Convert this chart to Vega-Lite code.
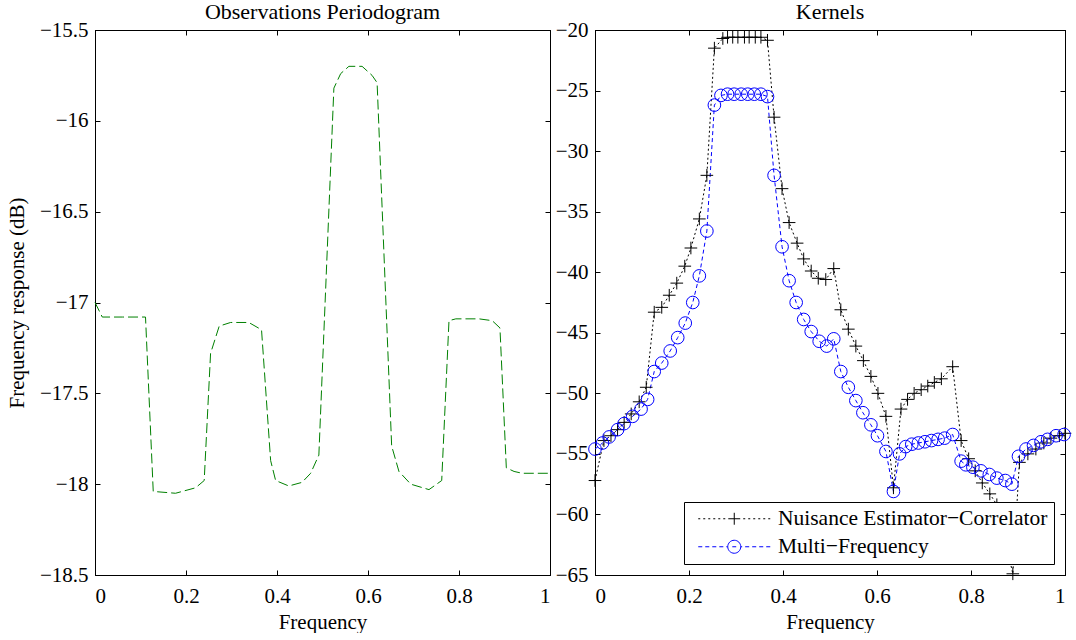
{
  "$schema": "https://vega.github.io/schema/vega-lite/v6.json",
  "padding": {"left": 5, "top": 0, "right": 5, "bottom": 0},
  "spacing": 0,
  "config": {
    "font": "Liberation Serif",
    "view": {"stroke": "black", "strokeWidth": 1},
    "axis": {"labelFont": "Liberation Serif", "labelFontSize": 21, "labelColor": "black", "titleFont": "Liberation Serif", "titleFontSize": 21, "titleFontWeight": "normal", "titleColor": "black", "domainColor": "black", "tickColor": "black", "tickSize": -5, "labelPadding": 12, "grid": false},
    "axisX": {"labelPadding": 15, "titlePadding": 5},
    "title": {"font": "Liberation Serif", "fontSize": 22, "fontWeight": "normal", "color": "black", "offset": -5, "frame": "group"}
  },
  "datasets": {
    "obs": [
      {"frequency": 0, "response": -17.0}, {"frequency": 0.016, "response": -17.08}, {"frequency": 0.06, "response": -17.08}, {"frequency": 0.111, "response": -17.08},
      {"frequency": 0.128, "response": -18.04}, {"frequency": 0.177, "response": -18.05}, {"frequency": 0.221, "response": -18.02}, {"frequency": 0.24, "response": -17.98},
      {"frequency": 0.254, "response": -17.28}, {"frequency": 0.273, "response": -17.13}, {"frequency": 0.298, "response": -17.11}, {"frequency": 0.338, "response": -17.11},
      {"frequency": 0.366, "response": -17.15}, {"frequency": 0.386, "response": -17.87}, {"frequency": 0.397, "response": -17.98}, {"frequency": 0.426, "response": -18.01},
      {"frequency": 0.455, "response": -17.99}, {"frequency": 0.474, "response": -17.94}, {"frequency": 0.492, "response": -17.84}, {"frequency": 0.525, "response": -15.82},
      {"frequency": 0.54, "response": -15.74}, {"frequency": 0.558, "response": -15.7}, {"frequency": 0.587, "response": -15.7}, {"frequency": 0.609, "response": -15.75},
      {"frequency": 0.62, "response": -15.79}, {"frequency": 0.652, "response": -17.79}, {"frequency": 0.668, "response": -17.93}, {"frequency": 0.694, "response": -18.0},
      {"frequency": 0.734, "response": -18.03}, {"frequency": 0.762, "response": -17.98}, {"frequency": 0.778, "response": -17.1}, {"frequency": 0.793, "response": -17.09},
      {"frequency": 0.844, "response": -17.09}, {"frequency": 0.873, "response": -17.1}, {"frequency": 0.89, "response": -17.14}, {"frequency": 0.904, "response": -17.91},
      {"frequency": 0.921, "response": -17.93}, {"frequency": 0.939, "response": -17.94}, {"frequency": 1.0, "response": -17.94}
    ],
    "kern": [
      {"frequency": 0, "response": -57.2, "method": "Nuisance Estimator−Correlator"},
      {"frequency": 0.019, "response": -53.9, "method": "Nuisance Estimator−Correlator"},
      {"frequency": 0.034, "response": -53.5, "method": "Nuisance Estimator−Correlator"},
      {"frequency": 0.048, "response": -53.0, "method": "Nuisance Estimator−Correlator"},
      {"frequency": 0.062, "response": -52.4, "method": "Nuisance Estimator−Correlator"},
      {"frequency": 0.077, "response": -51.7, "method": "Nuisance Estimator−Correlator"},
      {"frequency": 0.094, "response": -50.7, "method": "Nuisance Estimator−Correlator"},
      {"frequency": 0.109, "response": -49.5, "method": "Nuisance Estimator−Correlator"},
      {"frequency": 0.126, "response": -43.3, "method": "Nuisance Estimator−Correlator"},
      {"frequency": 0.142, "response": -42.9, "method": "Nuisance Estimator−Correlator"},
      {"frequency": 0.158, "response": -41.9, "method": "Nuisance Estimator−Correlator"},
      {"frequency": 0.174, "response": -40.9, "method": "Nuisance Estimator−Correlator"},
      {"frequency": 0.191, "response": -39.5, "method": "Nuisance Estimator−Correlator"},
      {"frequency": 0.204, "response": -38.0, "method": "Nuisance Estimator−Correlator"},
      {"frequency": 0.222, "response": -35.6, "method": "Nuisance Estimator−Correlator"},
      {"frequency": 0.238, "response": -32.0, "method": "Nuisance Estimator−Correlator"},
      {"frequency": 0.254, "response": -21.5, "method": "Nuisance Estimator−Correlator"},
      {"frequency": 0.272, "response": -20.7, "method": "Nuisance Estimator−Correlator"},
      {"frequency": 0.282, "response": -20.6, "method": "Nuisance Estimator−Correlator"},
      {"frequency": 0.293, "response": -20.6, "method": "Nuisance Estimator−Correlator"},
      {"frequency": 0.304, "response": -20.6, "method": "Nuisance Estimator−Correlator"},
      {"frequency": 0.318, "response": -20.6, "method": "Nuisance Estimator−Correlator"},
      {"frequency": 0.328, "response": -20.6, "method": "Nuisance Estimator−Correlator"},
      {"frequency": 0.341, "response": -20.6, "method": "Nuisance Estimator−Correlator"},
      {"frequency": 0.353, "response": -20.6, "method": "Nuisance Estimator−Correlator"},
      {"frequency": 0.367, "response": -20.85, "method": "Nuisance Estimator−Correlator"},
      {"frequency": 0.381, "response": -27.2, "method": "Nuisance Estimator−Correlator"},
      {"frequency": 0.398, "response": -33.1, "method": "Nuisance Estimator−Correlator"},
      {"frequency": 0.413, "response": -35.9, "method": "Nuisance Estimator−Correlator"},
      {"frequency": 0.43, "response": -37.6, "method": "Nuisance Estimator−Correlator"},
      {"frequency": 0.444, "response": -38.9, "method": "Nuisance Estimator−Correlator"},
      {"frequency": 0.46, "response": -39.9, "method": "Nuisance Estimator−Correlator"},
      {"frequency": 0.475, "response": -40.5, "method": "Nuisance Estimator−Correlator"},
      {"frequency": 0.491, "response": -40.6, "method": "Nuisance Estimator−Correlator"},
      {"frequency": 0.508, "response": -39.7, "method": "Nuisance Estimator−Correlator"},
      {"frequency": 0.523, "response": -43.1, "method": "Nuisance Estimator−Correlator"},
      {"frequency": 0.539, "response": -44.7, "method": "Nuisance Estimator−Correlator"},
      {"frequency": 0.555, "response": -46.1, "method": "Nuisance Estimator−Correlator"},
      {"frequency": 0.571, "response": -47.3, "method": "Nuisance Estimator−Correlator"},
      {"frequency": 0.587, "response": -48.6, "method": "Nuisance Estimator−Correlator"},
      {"frequency": 0.602, "response": -50.0, "method": "Nuisance Estimator−Correlator"},
      {"frequency": 0.619, "response": -51.9, "method": "Nuisance Estimator−Correlator"},
      {"frequency": 0.635, "response": -57.8, "method": "Nuisance Estimator−Correlator"},
      {"frequency": 0.651, "response": -51.3, "method": "Nuisance Estimator−Correlator"},
      {"frequency": 0.665, "response": -50.5, "method": "Nuisance Estimator−Correlator"},
      {"frequency": 0.679, "response": -50.0, "method": "Nuisance Estimator−Correlator"},
      {"frequency": 0.694, "response": -49.7, "method": "Nuisance Estimator−Correlator"},
      {"frequency": 0.708, "response": -49.4, "method": "Nuisance Estimator−Correlator"},
      {"frequency": 0.722, "response": -49.1, "method": "Nuisance Estimator−Correlator"},
      {"frequency": 0.737, "response": -48.8, "method": "Nuisance Estimator−Correlator"},
      {"frequency": 0.761, "response": -47.8, "method": "Nuisance Estimator−Correlator"},
      {"frequency": 0.779, "response": -53.9, "method": "Nuisance Estimator−Correlator"},
      {"frequency": 0.795, "response": -55.4, "method": "Nuisance Estimator−Correlator"},
      {"frequency": 0.809, "response": -56.4, "method": "Nuisance Estimator−Correlator"},
      {"frequency": 0.824, "response": -57.4, "method": "Nuisance Estimator−Correlator"},
      {"frequency": 0.84, "response": -58.3, "method": "Nuisance Estimator−Correlator"},
      {"frequency": 0.855, "response": -59.2, "method": "Nuisance Estimator−Correlator"},
      {"frequency": 0.871, "response": -61.8, "method": "Nuisance Estimator−Correlator"},
      {"frequency": 0.889, "response": -64.9, "method": "Nuisance Estimator−Correlator"},
      {"frequency": 0.903, "response": -55.7, "method": "Nuisance Estimator−Correlator"},
      {"frequency": 0.921, "response": -55.0, "method": "Nuisance Estimator−Correlator"},
      {"frequency": 0.938, "response": -54.6, "method": "Nuisance Estimator−Correlator"},
      {"frequency": 0.955, "response": -54.1, "method": "Nuisance Estimator−Correlator"},
      {"frequency": 0.97, "response": -53.7, "method": "Nuisance Estimator−Correlator"},
      {"frequency": 0.988, "response": -53.5, "method": "Nuisance Estimator−Correlator"},
      {"frequency": 1.0, "response": -53.3, "method": "Nuisance Estimator−Correlator"},
      {"frequency": 0, "response": -54.6, "method": "Multi−Frequency"},
      {"frequency": 0.016, "response": -54.1, "method": "Multi−Frequency"},
      {"frequency": 0.03, "response": -53.6, "method": "Multi−Frequency"},
      {"frequency": 0.048, "response": -53.0, "method": "Multi−Frequency"},
      {"frequency": 0.062, "response": -52.5, "method": "Multi−Frequency"},
      {"frequency": 0.08, "response": -51.9, "method": "Multi−Frequency"},
      {"frequency": 0.098, "response": -51.3, "method": "Multi−Frequency"},
      {"frequency": 0.112, "response": -50.5, "method": "Multi−Frequency"},
      {"frequency": 0.126, "response": -48.2, "method": "Multi−Frequency"},
      {"frequency": 0.142, "response": -47.5, "method": "Multi−Frequency"},
      {"frequency": 0.16, "response": -46.5, "method": "Multi−Frequency"},
      {"frequency": 0.176, "response": -45.4, "method": "Multi−Frequency"},
      {"frequency": 0.192, "response": -44.2, "method": "Multi−Frequency"},
      {"frequency": 0.208, "response": -42.5, "method": "Multi−Frequency"},
      {"frequency": 0.222, "response": -40.3, "method": "Multi−Frequency"},
      {"frequency": 0.238, "response": -36.6, "method": "Multi−Frequency"},
      {"frequency": 0.254, "response": -26.2, "method": "Multi−Frequency"},
      {"frequency": 0.268, "response": -25.4, "method": "Multi−Frequency"},
      {"frequency": 0.282, "response": -25.3, "method": "Multi−Frequency"},
      {"frequency": 0.296, "response": -25.3, "method": "Multi−Frequency"},
      {"frequency": 0.311, "response": -25.3, "method": "Multi−Frequency"},
      {"frequency": 0.325, "response": -25.3, "method": "Multi−Frequency"},
      {"frequency": 0.339, "response": -25.3, "method": "Multi−Frequency"},
      {"frequency": 0.353, "response": -25.3, "method": "Multi−Frequency"},
      {"frequency": 0.367, "response": -25.5, "method": "Multi−Frequency"},
      {"frequency": 0.381, "response": -32.0, "method": "Multi−Frequency"},
      {"frequency": 0.398, "response": -37.9, "method": "Multi−Frequency"},
      {"frequency": 0.413, "response": -40.7, "method": "Multi−Frequency"},
      {"frequency": 0.428, "response": -42.5, "method": "Multi−Frequency"},
      {"frequency": 0.444, "response": -43.9, "method": "Multi−Frequency"},
      {"frequency": 0.46, "response": -44.9, "method": "Multi−Frequency"},
      {"frequency": 0.477, "response": -45.7, "method": "Multi−Frequency"},
      {"frequency": 0.493, "response": -46.1, "method": "Multi−Frequency"},
      {"frequency": 0.508, "response": -45.5, "method": "Multi−Frequency"},
      {"frequency": 0.523, "response": -48.2, "method": "Multi−Frequency"},
      {"frequency": 0.539, "response": -49.5, "method": "Multi−Frequency"},
      {"frequency": 0.555, "response": -50.6, "method": "Multi−Frequency"},
      {"frequency": 0.57, "response": -51.6, "method": "Multi−Frequency"},
      {"frequency": 0.587, "response": -52.6, "method": "Multi−Frequency"},
      {"frequency": 0.601, "response": -53.5, "method": "Multi−Frequency"},
      {"frequency": 0.619, "response": -54.8, "method": "Multi−Frequency"},
      {"frequency": 0.635, "response": -58.1, "method": "Multi−Frequency"},
      {"frequency": 0.648, "response": -55.0, "method": "Multi−Frequency"},
      {"frequency": 0.661, "response": -54.4, "method": "Multi−Frequency"},
      {"frequency": 0.674, "response": -54.2, "method": "Multi−Frequency"},
      {"frequency": 0.688, "response": -54.1, "method": "Multi−Frequency"},
      {"frequency": 0.702, "response": -54.0, "method": "Multi−Frequency"},
      {"frequency": 0.716, "response": -53.9, "method": "Multi−Frequency"},
      {"frequency": 0.73, "response": -53.8, "method": "Multi−Frequency"},
      {"frequency": 0.744, "response": -53.7, "method": "Multi−Frequency"},
      {"frequency": 0.761, "response": -53.4, "method": "Multi−Frequency"},
      {"frequency": 0.779, "response": -55.6, "method": "Multi−Frequency"},
      {"frequency": 0.789, "response": -55.9, "method": "Multi−Frequency"},
      {"frequency": 0.804, "response": -56.1, "method": "Multi−Frequency"},
      {"frequency": 0.821, "response": -56.4, "method": "Multi−Frequency"},
      {"frequency": 0.839, "response": -56.7, "method": "Multi−Frequency"},
      {"frequency": 0.855, "response": -57.0, "method": "Multi−Frequency"},
      {"frequency": 0.873, "response": -57.2, "method": "Multi−Frequency"},
      {"frequency": 0.887, "response": -57.5, "method": "Multi−Frequency"},
      {"frequency": 0.901, "response": -55.2, "method": "Multi−Frequency"},
      {"frequency": 0.917, "response": -54.6, "method": "Multi−Frequency"},
      {"frequency": 0.933, "response": -54.3, "method": "Multi−Frequency"},
      {"frequency": 0.949, "response": -54.0, "method": "Multi−Frequency"},
      {"frequency": 0.963, "response": -53.8, "method": "Multi−Frequency"},
      {"frequency": 0.981, "response": -53.5, "method": "Multi−Frequency"},
      {"frequency": 0.998, "response": -53.4, "method": "Multi−Frequency"}
    ]
  },
  "hconcat": [
    {
      "width": 455,
      "height": 545,
      "title": "Observations Periodogram",
      "data": {"name": "obs"},
      "layer": [
        {
          "mark": {"type": "line", "color": "#008000", "strokeDash": [10, 4], "strokeWidth": 1},
          "encoding": {
            "x": {"field": "frequency", "type": "quantitative", "scale": {"domain": [0, 1], "nice": false}, "axis": {"title": "Frequency", "values": [0, 0.2, 0.4, 0.6, 0.8, 1], "format": "~g"}},
            "y": {"field": "response", "type": "quantitative", "scale": {"domain": [-18.5, -15.5], "nice": false, "zero": false}, "axis": {"title": "Frequency response (dB)", "titlePadding": 12, "values": [-18.5, -18, -17.5, -17, -16.5, -16, -15.5], "format": "~g"}}
          }
        },
        {
          "mark": {"type": "point", "opacity": 0},
          "encoding": {
            "x": {"field": "frequency", "type": "quantitative", "axis": {"orient": "top", "labels": false, "title": null, "values": [0, 0.2, 0.4, 0.6, 0.8, 1]}},
            "y": {"field": "response", "type": "quantitative", "axis": {"orient": "right", "labels": false, "title": null, "values": [-18.5, -18, -17.5, -17, -16.5, -16, -15.5]}}
          }
        }
      ],
      "resolve": {"axis": {"x": "independent", "y": "independent"}}
    },
    {
      "width": 470,
      "height": 545,
      "title": "Kernels",
      "data": {"name": "kern"},
      "layer": [
        {
          "mark": {"type": "line", "strokeWidth": 1},
          "encoding": {
            "x": {"field": "frequency", "type": "quantitative", "scale": {"domain": [0, 1], "nice": false}, "axis": {"title": "Frequency", "values": [0, 0.2, 0.4, 0.6, 0.8, 1], "format": "~g"}},
            "y": {"field": "response", "type": "quantitative", "scale": {"domain": [-65, -20], "nice": false, "zero": false}, "axis": {"title": null, "values": [-65, -60, -55, -50, -45, -40, -35, -30, -25, -20], "format": "~g"}},
            "color": {
              "field": "method", "type": "nominal",
              "scale": {"domain": ["Nuisance Estimator−Correlator", "Multi−Frequency"], "range": ["#000000", "#0000ff"]},
              "legend": null
            },
            "strokeDash": {
              "field": "method", "type": "nominal",
              "scale": {"domain": ["Nuisance Estimator−Correlator", "Multi−Frequency"], "range": [[2, 2.5], [4, 3]]},
              "legend": null
            }
          }
        },
        {
          "mark": {"type": "point", "filled": false, "strokeWidth": 1, "opacity": 1, "size": 160},
          "encoding": {
            "x": {"field": "frequency", "type": "quantitative", "axis": null},
            "y": {"field": "response", "type": "quantitative", "axis": null},
            "color": {
              "field": "method", "type": "nominal",
              "scale": {"domain": ["Nuisance Estimator−Correlator", "Multi−Frequency"], "range": ["#000000", "#0000ff"]},
              "legend": null
            },
            "shape": {
              "field": "method", "type": "nominal",
              "scale": {"domain": ["Nuisance Estimator−Correlator", "Multi−Frequency"], "range": ["M-1,0L1,0M0,-1L0,1", "circle"]},
              "legend": null
            }
          }
        },
        {
          "mark": {"type": "point", "filled": false, "opacity": 0, "strokeWidth": 1},
          "encoding": {
            "x": {"field": "frequency", "type": "quantitative", "axis": {"orient": "top", "labels": false, "title": null, "values": [0, 0.2, 0.4, 0.6, 0.8, 1]}},
            "y": {"field": "response", "type": "quantitative", "axis": {"orient": "right", "labels": false, "title": null, "values": [-65, -60, -55, -50, -45, -40, -35, -30, -25, -20]}},
            "color": {
              "field": "method", "type": "nominal",
              "scale": {"domain": ["Nuisance Estimator−Correlator", "Multi−Frequency"], "range": ["#000000", "#0000ff"]},
              "legend": {
                "title": null, "orient": "bottom-right", "offset": 11,
                "fillColor": "white", "strokeColor": "black",
                "padding": 6, "rowPadding": 5,
                "labelFont": "Liberation Serif", "labelFontSize": 21.5, "labelColor": "black", "labelLimit": 500,
                "symbolSize": 169, "symbolOffset": 33.5, "labelOffset": 33, "symbolOpacity": 1, "symbolStrokeWidth": 1, "symbolFillColor": "transparent"
              }
            },
            "shape": {
              "field": "method", "type": "nominal",
              "scale": {"domain": ["Nuisance Estimator−Correlator", "Multi−Frequency"], "range": [
                "M-5.54,0L-5.23,0M-4.77,0L-4.46,0M-4,0L-3.69,0M-3.23,0L-2.92,0M-2.46,0L-2.15,0M-1.69,0L-1.38,0M1.38,0L1.69,0M2.15,0L2.46,0M2.92,0L3.23,0M3.69,0L4,0M4.46,0L4.77,0M5.23,0L5.54,0M-0.92,0L0.92,0M0,-0.92L0,0.92",
                "M-5.54,0L-4.92,0M-4.46,0L-3.84,0M-3.38,0L-2.76,0M-2.3,0L-1.68,0M-1.22,0L-1,0M1,0L1.22,0M1.68,0L2.3,0M2.76,0L3.38,0M3.84,0L4.46,0M4.92,0L5.54,0M-0.3,0L0.3,0M1,0C1,0.5523 0.5523,1 0,1C-0.5523,1 -1,0.5523 -1,0C-1,-0.5523 -0.5523,-1 0,-1C0.5523,-1 1,-0.5523 1,0Z"
              ]},
              "legend": {
                "title": null, "orient": "bottom-right", "offset": 11,
                "fillColor": "white", "strokeColor": "black",
                "padding": 6, "rowPadding": 5,
                "labelFont": "Liberation Serif", "labelFontSize": 21.5, "labelColor": "black", "labelLimit": 500,
                "symbolSize": 169, "symbolOffset": 33.5, "labelOffset": 33, "symbolOpacity": 1, "symbolStrokeWidth": 1, "symbolFillColor": "transparent"
              }
            }
          }
        }
      ],
      "resolve": {"axis": {"x": "independent", "y": "independent"}, "scale": {"color": "independent", "shape": "independent"}}
    }
  ]
}
